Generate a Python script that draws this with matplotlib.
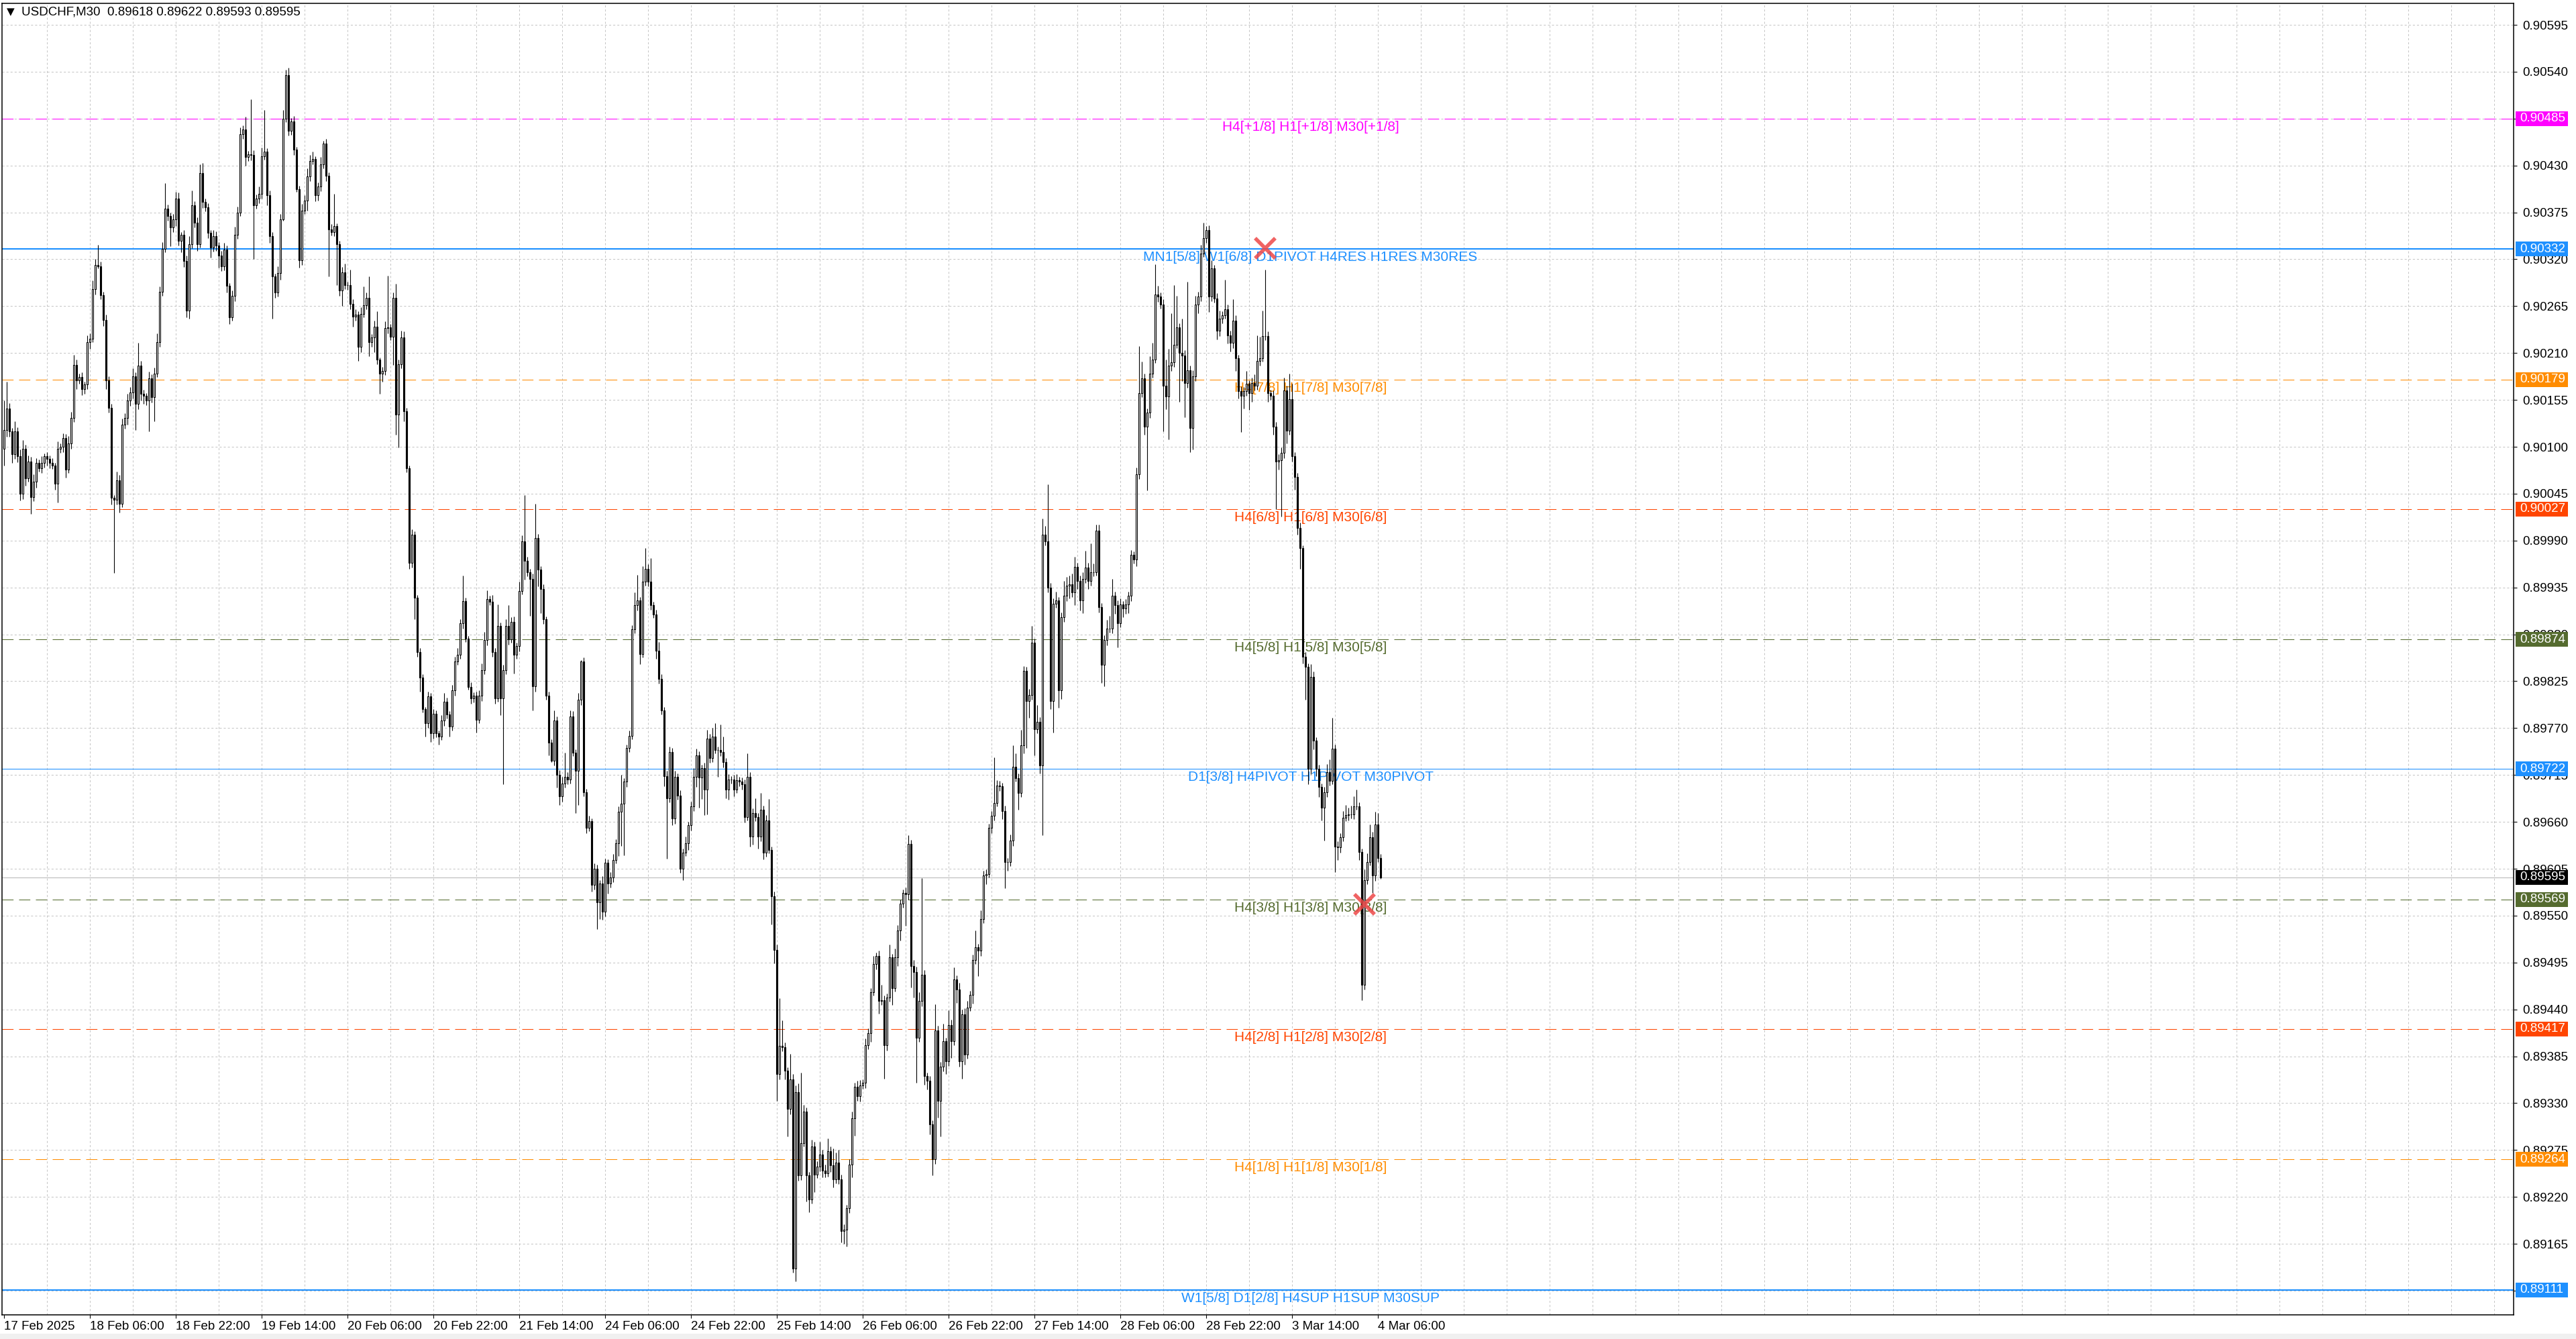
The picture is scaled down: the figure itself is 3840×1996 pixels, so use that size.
import matplotlib
matplotlib.use("Agg")
import matplotlib.pyplot as plt
import matplotlib.transforms as mtransforms
from matplotlib.patches import Rectangle
import numpy as np

plt.rcParams['lines.scale_dashes'] = False
plt.rcParams['font.family'] = ['Liberation Sans', 'DejaVu Sans']
AXFS = 13.5

# USDCHF M30 bars, prices in points above 0.89000 (1 point = 0.00001)
first_open = 1098
closes = [
    1120, 1145, 1118, 1091, 1118, 1089, 1045, 1098, 1063, 1083,
    1041, 1059, 1081, 1075, 1081, 1089, 1086, 1081, 1078, 1057,
    1098, 1100, 1110, 1073, 1104, 1134, 1196, 1178, 1182, 1168,
    1173, 1223, 1227, 1285, 1313, 1312, 1278, 1249, 1178, 1146,
    1040, 1038, 1061, 1033, 1126, 1134, 1154, 1164, 1183, 1150,
    1195, 1162, 1160, 1154, 1180, 1158, 1186, 1223, 1282, 1332,
    1379, 1371, 1357, 1367, 1391, 1342, 1349, 1318, 1260, 1338,
    1383, 1363, 1338, 1421, 1387, 1381, 1351, 1334, 1347, 1336,
    1324, 1312, 1331, 1289, 1252, 1277, 1349, 1375, 1467, 1472,
    1440, 1443, 1442, 1383, 1391, 1397, 1441, 1446, 1395, 1347,
    1300, 1281, 1304, 1367, 1485, 1536, 1471, 1482, 1449, 1402,
    1319, 1377, 1389, 1417, 1435, 1438, 1395, 1405, 1431, 1456,
    1418, 1355, 1352, 1359, 1338, 1283, 1305, 1290, 1290, 1268,
    1253, 1255, 1217, 1256, 1266, 1275, 1223, 1228, 1241, 1202,
    1186, 1189, 1239, 1240, 1229, 1275, 1138, 1197, 1228, 1142,
    1075, 964, 997, 923, 859, 829, 792, 776, 807, 764,
    787, 764, 760, 779, 801, 786, 772, 814, 848, 856,
    893, 919, 875, 818, 805, 808, 780, 808, 838, 873,
    921, 918, 859, 805, 890, 805, 838, 890, 874, 895,
    856, 866, 931, 989, 966, 953, 945, 819, 993, 956,
    933, 898, 808, 753, 732, 779, 715, 690, 705, 713,
    710, 784, 741, 720, 803, 848, 695, 653, 661, 586,
    605, 566, 588, 555, 612, 588, 595, 615, 635, 672,
    681, 707, 747, 761, 886, 914, 920, 857, 942, 957,
    942, 914, 903, 861, 828, 791, 714, 688, 742, 664,
    713, 691, 605, 624, 635, 656, 678, 713, 738, 712,
    723, 698, 758, 735, 760, 744, 744, 742, 730, 698,
    710, 710, 698, 709, 707, 704, 666, 713, 643, 670,
    666, 643, 674, 624, 662, 627, 573, 510, 364, 397,
    396, 368, 323, 358, 136, 343, 245, 283, 320, 245,
    217, 279, 246, 256, 270, 251, 248, 274, 257, 241,
    260, 241, 180, 182, 207, 258, 312, 349, 338, 351,
    354, 398, 412, 460, 493, 503, 450, 451, 398, 454,
    501, 465, 501, 533, 564, 577, 575, 634, 491, 484,
    407, 450, 481, 362, 356, 305, 264, 415, 333, 373,
    403, 379, 422, 403, 475, 463, 379, 434, 387, 442,
    457, 498, 513, 509, 546, 597, 599, 653, 667, 682,
    703, 702, 673, 613, 613, 638, 725, 711, 694, 750,
    837, 802, 809, 870, 769, 777, 726, 997, 989, 935,
    802, 916, 920, 814, 900, 925, 937, 939, 929, 959,
    943, 920, 945, 958, 943, 953, 953, 1002, 912, 844,
    873, 887, 887, 925, 914, 893, 915, 910, 915, 925,
    973, 968, 1068, 1163, 1180, 1124, 1140, 1186, 1202, 1279,
    1276, 1267, 1172, 1159, 1195, 1199, 1220, 1240, 1210, 1207,
    1175, 1190, 1122, 1183, 1267, 1276, 1327, 1345, 1354, 1276,
    1309, 1274, 1236, 1250, 1254, 1261, 1231, 1222, 1248, 1204,
    1165, 1160, 1165, 1174, 1163, 1175, 1172, 1201, 1204, 1230,
    1230, 1163, 1160, 1124, 1083, 1084, 1093, 1166, 1119, 1156,
    1089, 1065, 1005, 981, 854, 842, 722, 830, 755, 722,
    701, 677, 695, 718, 708, 746, 631, 630, 642, 665,
    668, 669, 669, 678, 678, 625, 469, 592, 613, 642,
    597, 657, 618, 595,
]
# upper / lower shadow beyond the body, in points
wick_up = [
    34, 31, 6, 4, 12, 5, 8, 10, 4, 7,
    5, 9, 6, 4, 8, 3, 5, 4, 6, 3,
    8, 4, 6, 5, 9, 7, 12, 6, 4, 5,
    3, 8, 6, 10, 7, 24, 5, 4, 6, 5,
    4, 3, 10, 6, 7, 5, 8, 6, 9, 4,
    27, 6, 5, 3, 8, 5, 7, 10, 6, 8,
    30, 5, 4, 6, 8, 7, 3, 5, 6, 9,
    18, 5, 6, 10, 12, 4, 5, 3, 7, 6,
    4, 6, 8, 5, 3, 6, 9, 7, 8, 5,
    15, 4, 65, 6, 5, 8, 10, 49, 4, 6,
    5, 3, 8, 6, 10, 6, 9, 4, 6, 3,
    4, 8, 6, 10, 7, 8, 3, 5, 9, 3,
    5, 4, 6, 38, 3, 4, 6, 10, 4, 18,
    5, 6, 4, 8, 22, 6, 25, 4, 7, 18,
    3, 5, 8, 61, 4, 6, 16, 5, 8, 7,
    4, 3, 6, 4, 3, 5, 4, 3, 6, 4,
    5, 4, 3, 6, 10, 5, 4, 7, 6, 8,
    5, 30, 4, 3, 6, 4, 5, 6, 8, 10,
    11, 4, 8, 5, 25, 4, 6, 8, 24, 5,
    6, 4, 11, 7, 54, 5, 4, 6, 40, 5,
    4, 6, 3, 5, 4, 12, 5, 6, 8, 28,
    5, 7, 6, 4, 8, 2, 5, 4, 6, 3,
    6, 5, 4, 8, 5, 4, 6, 7, 5, 6,
    34, 4, 4, 6, 5, 15, 30, 4, 18, 24,
    5, 27, 4, 6, 10, 5, 4, 6, 6, 5,
    7, 4, 6, 5, 8, 4, 6, 10, 8, 5,
    4, 6, 10, 5, 10, 16, 4, 30, 18, 5,
    6, 4, 5, 7, 4, 5, 6, 27, 5, 6,
    18, 4, 20, 5, 6, 25, 4, 5, 6, 56,
    30, 5, 4, 30, 6, 8, 10, 83, 8, 5,
    4, 8, 6, 6, 15, 5, 7, 15, 5, 20,
    12, 15, 5, 6, 4, 6, 8, 5, 7, 6,
    4, 8, 6, 5, 10, 4, 6, 18, 5, 5,
    15, 4, 10, 6, 5, 4, 6, 10, 5, 7,
    6, 10, 113, 5, 4, 6, 5, 31, 6, 5,
    20, 4, 17, 6, 14, 5, 8, 6, 7, 8,
    5, 6, 20, 4, 10, 6, 5, 5, 6, 54,
    6, 5, 4, 6, 5, 7, 25, 15, 6, 18,
    6, 5, 7, 20, 5, 20, 6, 19, 10, 67,
    5, 6, 10, 4, 6, 18, 10, 10, 12, 12,
    5, 6, 8, 20, 6, 34, 10, 7, 7, 5,
    6, 10, 15, 20, 5, 6, 7, 4, 6, 5,
    6, 4, 8, 55, 20, 6, 5, 20, 20, 35,
    10, 5, 6, 30, 20, 58, 70, 37, 5, 40,
    6, 104, 5, 7, 10, 6, 10, 18, 5, 6,
    10, 4, 6, 10, 5, 35, 6, 5, 25, 6,
    4, 6, 5, 15, 4, 6, 10, 30, 25, 30,
    78, 5, 4, 6, 5, 7, 6, 15, 6, 30,
    18, 5, 4, 6, 3, 5, 4, 15, 6, 4,
    5, 4, 6, 10, 15, 36, 5, 6, 5, 8,
    12, 8, 10, 12, 20, 5, 4, 12, 10, 15,
    6, 15, 13, 4,
]
wick_dn = [
    20, 8, 6, 10, 5, 7, 8, 6, 9, 4,
    20, 5, 7, 4, 6, 5, 8, 6, 4, 7,
    22, 5, 6, 9, 4, 6, 5, 10, 4, 7,
    6, 5, 8, 4, 6, 3, 5, 7, 10, 6,
    8, 86, 6, 10, 4, 5, 8, 6, 7, 30,
    6, 8, 10, 5, 36, 6, 28, 4, 6, 5,
    4, 6, 22, 5, 8, 6, 14, 7, 8, 10,
    5, 6, 8, 4, 7, 5, 6, 12, 5, 6,
    14, 6, 5, 8, 8, 4, 6, 5, 4, 6,
    10, 5, 6, 63, 4, 5, 6, 4, 12, 8,
    50, 6, 5, 8, 2, 4, 6, 5, 7, 3,
    9, 6, 4, 12, 5, 4, 7, 6, 5, 4,
    6, 55, 4, 5, 48, 6, 18, 5, 6, 7,
    12, 5, 16, 6, 4, 5, 17, 6, 17, 5,
    24, 10, 5, 6, 4, 33, 24, 39, 5, 12,
    5, 7, 6, 25, 5, 16, 4, 16, 6, 10,
    6, 5, 9, 4, 6, 5, 12, 5, 6, 4,
    5, 6, 4, 3, 6, 5, 15, 4, 6, 5,
    6, 4, 5, 6, 4, 20, 101, 5, 6, 4,
    22, 5, 6, 4, 22, 5, 43, 28, 6, 20,
    28, 6, 5, 15, 2, 6, 15, 10, 6, 5,
    6, 5, 4, 50, 40, 6, 5, 6, 4, 8,
    5, 32, 20, 10, 6, 12, 5, 6, 4, 15,
    40, 60, 6, 5, 4, 5, 6, 12, 4, 5,
    6, 5, 4, 10, 6, 5, 12, 71, 5, 8,
    6, 5, 5, 13, 4, 8, 6, 5, 12, 35,
    25, 30, 29, 6, 5, 4, 31, 5, 6, 10,
    12, 5, 8, 4, 5, 6, 7, 4, 12, 10,
    5, 14, 6, 8, 5, 4, 33, 16, 31, 6,
    5, 10, 32, 6, 5, 15, 6, 5, 4, 30,
    15, 5, 20, 4, 6, 8, 5, 4, 8, 10,
    5, 6, 13, 15, 20, 6, 15, 20, 5, 6,
    4, 6, 5, 10, 4, 6, 15, 5, 39, 6,
    5, 20, 4, 10, 12, 5, 37, 6, 25, 30,
    53, 5, 6, 10, 10, 12, 19, 5, 20, 42,
    6, 15, 5, 20, 5, 15, 6, 20, 12, 5,
    4, 10, 5, 30, 6, 5, 10, 4, 6, 5,
    4, 6, 10, 31, 10, 5, 6, 4, 20, 5,
    10, 55, 20, 6, 31, 5, 9, 82, 5, 6,
    10, 37, 5, 20, 10, 5, 6, 15, 5, 15,
    10, 12, 15, 5, 10, 6, 5, 4, 6, 21,
    25, 6, 5, 6, 10, 28, 5, 10, 6, 10,
    6, 5, 8, 6, 5, 10, 75, 6, 5, 4,
    6, 5, 54, 15, 50, 6, 5, 4, 57, 30,
    40, 6, 28, 25, 6, 10, 5, 4, 6, 18,
    5, 5, 10, 6, 5, 4, 10, 10, 6, 15,
    8, 43, 15, 5, 20, 10, 6, 5, 6, 4,
    5, 10, 5, 10, 56, 10, 66, 6, 15, 5,
    6, 15, 8, 24, 8, 39, 18, 6, 10, 8,
    12, 15, 39, 6, 5, 4, 30, 15, 6, 5,
    4, 6, 5, 6, 4, 10, 18, 6, 5, 4,
    20, 6, 5, 2,
]

time_labels = ["17 Feb 2025", "18 Feb 06:00", "18 Feb 22:00", "19 Feb 14:00",
               "20 Feb 06:00", "20 Feb 22:00", "21 Feb 14:00", "24 Feb 06:00",
               "24 Feb 22:00", "25 Feb 14:00", "26 Feb 06:00", "26 Feb 22:00",
               "27 Feb 14:00", "28 Feb 06:00", "28 Feb 22:00", "3 Mar 14:00",
               "4 Mar 06:00"]
time_label_bars = [0, 32, 64, 96, 128, 160, 192, 224, 256, 288, 320, 352,
                   384, 416, 448, 480, 512]

level_prices = [0.90485, 0.90332, 0.90179, 0.90027, 0.89874,
                0.89722, 0.89569, 0.89417, 0.89264, 0.89111]
level_texts = ["H4[+1/8] H1[+1/8] M30[+1/8]",
               "MN1[5/8] W1[6/8] D1PIVOT H4RES H1RES M30RES",
               "H4[7/8] H1[7/8] M30[7/8]",
               "H4[6/8] H1[6/8] M30[6/8]",
               "H4[5/8] H1[5/8] M30[5/8]",
               "D1[3/8] H4PIVOT H1PIVOT M30PIVOT",
               "H4[3/8] H1[3/8] M30[3/8]",
               "H4[2/8] H1[2/8] M30[2/8]",
               "H4[1/8] H1[1/8] M30[1/8]",
               "W1[5/8] D1[2/8] H4SUP H1SUP M30SUP"]
level_colors = ['#ff00ff', '#1e90ff', '#ff8c00', '#ff4500', '#556b2f',
                '#1e90ff', '#556b2f', '#ff4500', '#ff8c00', '#1e90ff']
level_lws = [0.75, 1.5, 0.75, 0.75, 0.75, 0.75, 0.75, 0.75, 0.75, 1.5]
level_dashed = [True, False, True, True, True, False, True, True, True, False]

cross_bars = [470, 507]
cross_prices = [0.90333, 0.89563]

# ---- build OHLC
BASE, PT = 0.89, 0.00001
n = min(len(closes), len(wick_up), len(wick_dn))
c = BASE + np.array(closes[:n]) * PT
o = np.concatenate([[BASE + first_open * PT], c[:-1]])
hi = np.maximum(o, c) + np.array(wick_up[:n]) * PT
lo = np.minimum(o, c) - np.array(wick_dn[:n]) * PT
x = np.arange(n)

W, H = 3840, 1996
fig = plt.figure(figsize=(W / 100, H / 100), dpi=100)
L, R, T, B = 3, 3747, 5, 1960
ax = fig.add_axes([L / W, 1 - B / H, (R - L) / W, (B - T) / H])
ax.set_xlim((L - 5.6) / 4, (R - 5.6) / 4)
ax.set_ylim(0.890817, 0.906202)

yt = np.round(np.arange(0.89110, 0.906, 0.00055), 5)
for p in yt:
    ax.axhline(p, color='#c4c4c4', lw=0.72, dashes=(2.2, 2.2), zorder=0)
for b in range(16, 936, 16):
    ax.axvline(b, color='#c4c4c4', lw=0.72, dashes=(2.2, 2.2), zorder=0)

# levels
lab_tr = mtransforms.offset_copy(ax.transData, fig=fig, y=-3, units='dots')
for p, t, col, lw, dsh in zip(level_prices, level_texts, level_colors, level_lws, level_dashed):
    if dsh:
        ax.axhline(p, color=col, lw=lw, dashes=(12, 6), zorder=1)
    else:
        ax.axhline(p, color=col, lw=lw, zorder=1)
    ax.text(487, p, t, transform=lab_tr, ha='center', va='top', fontsize=15,
            color=col, zorder=1.5)

# current price line
ax.axhline(c[-1], color='#c0c0c0', lw=0.9, zorder=1)

# candles
ax.vlines(x, lo, hi, color='black', lw=0.8, zorder=2)
up = c >= o
ax.bar(x, np.abs(c - o), bottom=np.minimum(o, c), width=0.55,
       color=np.where(up, 'white', 'black'), edgecolor='black',
       linewidth=0.8, zorder=3)

ax.plot(cross_bars, cross_prices, 'x', color='#ee4848', ms=22, mew=4,
        alpha=0.85, zorder=4)

# axes styling
for s in ax.spines.values():
    s.set_linewidth(1.1)
    s.set_color('black')
ax.yaxis.tick_right()
ax.set_yticks(yt)
ax.set_yticklabels([f"{v:.5f}" for v in yt])
ax.tick_params(axis='y', labelsize=AXFS, length=3.5, width=0.8, pad=6)
ax.set_xticks(time_label_bars)
ax.set_xticklabels(time_labels, ha='left')
ax.tick_params(axis='x', labelsize=AXFS, length=3.5, width=0.8, pad=3)

# price boxes on the right axis
box_tr = mtransforms.blended_transform_factory(fig.transFigure, ax.transData)
box_h = 22 / 1.2707 * PT
box_prices = level_prices + [c[-1]]
box_colors = level_colors + ['black']
for p, col in zip(box_prices, box_colors):
    ax.add_patch(Rectangle((3750 / W, p - box_h / 2), 78 / W, box_h,
                           transform=box_tr, facecolor=col, edgecolor='none',
                           clip_on=False, zorder=10))
    ax.text(3756 / W, p, f"{p:.5f}", transform=box_tr, ha='left', va='center',
            fontsize=AXFS, color='white', clip_on=False, zorder=11)

# header
fig.text(10 / W, 1 - 18 / H, "\u25bc", fontsize=11, va='center', ha='left',
         family=['DejaVu Sans'])
fig.text(32 / W, 1 - 18 / H,
         f"USDCHF,M30  {o[-1]:.5f} {hi[-1]:.5f} {lo[-1]:.5f} {c[-1]:.5f}",
         fontsize=AXFS, va='center', ha='left')

fig.patches.append(Rectangle((0, 0), 1, 8 / H, transform=fig.transFigure,
                             facecolor='#f0f0f0', edgecolor='none'))

fig.savefig("out.png", dpi=100)
